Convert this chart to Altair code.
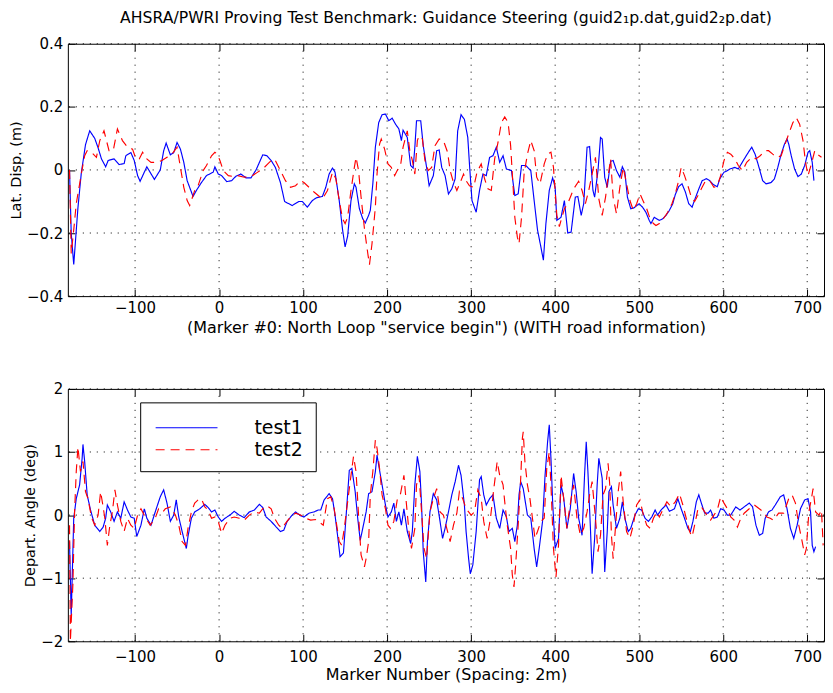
import altair as alt
import pandas as pd

# ---------------- data ----------------
series_names = ["test1", "test2"]
series_colors = ["#0000ff", "#ff0000"]
series_dashes = [[1, 0], [9, 6]]

x_ticks = [-100, 0, 100, 200, 300, 400, 500, 600, 700]
top_y_ticks = [-0.4, -0.2, 0, 0.2, 0.4]
bot_y_ticks = [-2, -1, 0, 1, 2]

# Top panel: lateral displacement (m)
top_t1_x = [-178, -176, -173, -168, -164, -159, -154, -148, -144, -140, -135, -132, -125, -119, -113, -111, -105, -101,
            -97, -94, -86, -77, -70, -66, -63, -58, -54, -50, -46, -42, -38, -31, -27, -21, -15, -7, -5, -1, 3, 9, 15,
            20, 26, 32, 38, 44, 52, 57, 62, 67, 73, 78, 87, 95, 99, 105, 111, 116, 123, 127, 131, 135, 138, 143, 147,
            150, 153, 157, 161, 163, 167, 171, 174, 178, 180, 183, 186, 190, 194, 198, 202, 206, 210, 214, 217, 219,
            224, 228, 231, 233, 235, 240, 243, 247, 250, 255, 259, 262, 265, 269, 273, 277, 281, 284, 288, 292, 296,
            298, 301, 306, 310, 314, 318, 322, 326, 330, 334, 338, 342, 348, 352, 356, 360, 365, 371, 375, 379, 383,
            386, 389, 393, 397, 400, 402, 407, 411, 415, 419, 424, 427, 431, 434, 438, 441, 445, 447, 451, 454, 456,
            459, 462, 466, 469, 473, 477, 480, 483, 486, 490, 494, 500, 504, 508, 512, 514, 518, 524, 528, 532, 536,
            540, 543, 547, 551, 555, 559, 563, 567, 571, 575, 580, 584, 588, 593, 596, 601, 604, 608, 614, 618, 624,
            630, 634, 638, 642, 647, 651, 657, 661, 665, 669, 673, 676, 678, 681, 685, 689, 693, 697, 701, 703, 706,
            708]
top_t1_y = [0.0, -0.2, -0.30, -0.12, -0.01, 0.08, 0.124, 0.10, 0.07, 0.035, 0.01, 0.03, 0.035, 0.017, 0.02, 0.045,
            0.055, 0.03, -0.018, -0.036, 0.01, -0.03, 0.0, 0.06, 0.085, 0.048, 0.055, 0.087, 0.066, 0.024, -0.034,
            -0.084, -0.065, -0.04, -0.018, -0.007, 0.01, -0.013, -0.018, -0.037, -0.034, -0.02, -0.013, -0.025, -0.025,
            0.0, 0.048, 0.045, 0.03, 0.008, -0.04, -0.10, -0.113, -0.1, -0.1, -0.118, -0.097, -0.088, -0.084, -0.055,
            -0.013, 0.006, -0.007, -0.097, -0.19, -0.244, -0.21, -0.097, -0.044, -0.055, -0.123, -0.155, -0.168,
            -0.144, -0.128, -0.044, 0.072, 0.15, 0.175, 0.177, 0.156, 0.164, 0.145, 0.13, 0.093, 0.126, 0.103, 0.014,
            0.006, 0.072, 0.156, 0.156, 0.077, 0.008, -0.05, -0.018, 0.061, 0.063, 0.008, -0.018, -0.076, -0.06,
            -0.028, 0.124, 0.175, 0.16, 0.103, 0.019, -0.097, -0.134, -0.065, -0.013, -0.018, 0.04, 0.045, 0.072,
            0.024, 0.045, 0.003, -0.002, -0.081, -0.076, 0.014, 0.014, -0.002, -0.097, -0.19, -0.244, -0.286, -0.17,
            -0.065, -0.025, -0.055, -0.16, -0.15, -0.097, -0.2, -0.197, -0.086, -0.084, -0.144, -0.107, 0.072, 0.074,
            -0.065, -0.086, -0.002, 0.103, 0.098, -0.023, -0.055, 0.027, 0.03, -0.002, -0.023, 0.01, -0.007, -0.086,
            -0.123, -0.12, -0.107, -0.118, -0.134, -0.16, -0.17, -0.15, -0.16, -0.155, -0.144, -0.128, -0.107, -0.078,
            -0.053, -0.044, -0.07, -0.107, -0.118, -0.088, -0.06, -0.034, -0.028, -0.034, -0.046, -0.053, -0.028,
            -0.007, -0.004, 0.003, 0.008, 0.003, 0.03, 0.056, 0.072, 0.05, 0.014, -0.034, -0.044, -0.04, -0.028,
            0.008, 0.05, 0.082, 0.098, 0.082, 0.045, 0.003, -0.021, -0.013, 0.014, 0.056, 0.061, 0.024, -0.034]

top_t2_x = [-178, -176, -173, -170, -167, -164, -160, -157, -152, -146, -142, -137, -131, -126, -121, -115, -109, -103,
            -99, -95, -91, -86, -81, -74, -68, -62, -56, -50, -46, -42, -38, -35, -29, -25, -19, -15, -9, -5, -2, 1, 5,
            11, 17, 22, 30, 38, 46, 52, 58, 64, 67, 73, 79, 85, 91, 97, 101, 107, 113, 118, 123, 129, 135, 139, 143,
            147, 150, 153, 157, 161, 163, 166, 169, 173, 177, 179, 182, 186, 188, 191, 193, 197, 201, 205, 209, 212,
            216, 219, 224, 227, 230, 233, 236, 238, 242, 245, 249, 253, 257, 262, 267, 272, 275, 279, 283, 287, 291,
            294, 298, 303, 307, 312, 316, 320, 324, 328, 332, 336, 340, 344, 347, 350, 352, 355, 357, 360, 363, 367,
            371, 375, 378, 382, 387, 391, 395, 398, 402, 405, 407, 411, 415, 419, 422, 428, 432, 436, 440, 444, 448,
            452, 456, 460, 464, 466, 469, 473, 477, 481, 485, 489, 493, 497, 501, 505, 509, 513, 517, 520, 524, 530,
            534, 539, 543, 547, 550, 554, 558, 562, 566, 570, 574, 579, 584, 589, 593, 597, 601, 605, 609, 614, 618,
            623, 628, 634, 639, 644, 650, 654, 659, 664, 669, 673, 678, 683, 687, 691, 695, 698, 701, 705, 709, 712,
            717]
top_t2_y = [0.0, -0.265, -0.19, -0.107, -0.06, -0.013, 0.045, 0.061, 0.056, 0.04, 0.093, 0.124, 0.061, 0.061, 0.13,
            0.093, 0.072, 0.066, 0.035, 0.035, 0.056, 0.035, 0.024, 0.024, 0.03, 0.04, 0.05, 0.072, 0.008, -0.055,
            -0.097, -0.113, -0.065, -0.05, -0.002, 0.014, 0.045, 0.056, 0.05, 0.03, -0.002, -0.018, -0.021, -0.018,
            -0.023, -0.021, -0.007, 0.003, 0.019, 0.035, 0.03, -0.002, -0.034, -0.055, -0.05, -0.034, -0.04, -0.055,
            -0.07, -0.081, -0.092, -0.065, -0.007, -0.028, -0.097, -0.155, -0.17, -0.15, -0.065, 0.008, 0.04, -0.002,
            -0.086, -0.186, -0.265, -0.30, -0.234, -0.118, -0.013, 0.082, 0.098, 0.066, 0.019, 0.008, -0.018, -0.002,
            0.014, 0.072, 0.124, 0.061, 0.03, -0.013, 0.093, 0.108, 0.098, 0.03, -0.002, 0.008, 0.077, 0.098, 0.093,
            0.056, -0.002, -0.04, -0.065, -0.04, -0.013, -0.034, -0.05, -0.055, -0.007, 0.019, -0.028, -0.06, -0.065,
            0.035, 0.087, 0.15, 0.168, 0.15, 0.077, -0.055, -0.15, -0.213, -0.234, -0.15, -0.013, 0.05, 0.093, 0.061,
            -0.023, -0.044, 0.019, 0.05, 0.056, 0.008, -0.144, -0.18, -0.16, -0.123, -0.107, -0.08, -0.06, -0.036,
            -0.065, -0.107, -0.065, -0.013, 0.04, -0.092, -0.144, -0.086, -0.002, 0.035, -0.086, -0.139, -0.055, 0.008,
            -0.044, -0.097, -0.128, -0.107, -0.076, -0.1, -0.123, -0.155, -0.17, -0.176, -0.17, -0.15, -0.134, -0.107,
            -0.076, -0.034, 0.008, -0.018, -0.05, -0.086, -0.1, -0.081, -0.06, -0.034, -0.034, -0.055, -0.05, -0.018,
            0.03, 0.056, 0.05, 0.035, 0.014, -0.002, 0.024, 0.04, 0.035, 0.045, 0.061, 0.061, 0.05, 0.04, 0.045, 0.077,
            0.114, 0.15, 0.166, 0.145, 0.093, 0.024, -0.018, 0.019, 0.061, 0.05, 0.04]

# Bottom panel: departure angle (deg)
bot_t1_x = [-178, -176, -173, -170, -166, -163, -162, -160, -157, -153, -148, -142, -138, -135, -133, -129, -125, -121,
            -117, -113, -109, -105, -101, -98, -93, -89, -86, -81, -76, -70, -66, -62, -58, -54, -51, -48, -44, -39,
            -37, -33, -29, -23, -17, -13, -9, -5, -1, 3, 7, 13, 18, 24, 30, 36, 42, 48, 52, 56, 62, 68, 73, 77, 81,
            87, 91, 97, 101, 107, 113, 118, 121, 125, 131, 135, 138, 141, 144, 148, 151, 155, 158, 162, 165, 168, 171,
            175, 178, 182, 186, 188, 190, 194, 198, 201, 205, 208, 211, 214, 217, 220, 224, 228, 230, 233, 236, 239,
            241, 243, 246, 248, 251, 255, 259, 263, 266, 269, 273, 277, 281, 285, 288, 292, 294, 297, 299, 302, 306,
            310, 312, 315, 318, 322, 326, 330, 334, 338, 342, 345, 349, 352, 355, 357, 359, 362, 367, 371, 375, 378,
            381, 385, 388, 391, 393, 395, 397, 400, 404, 407, 410, 414, 418, 422, 425, 428, 432, 435, 437, 439, 442,
            444, 447, 450, 452, 456, 459, 462, 464, 467, 469, 473, 477, 480, 483, 487, 490, 495, 499, 503, 507, 511,
            515, 519, 522, 526, 532, 536, 542, 546, 550, 554, 558, 561, 564, 568, 571, 574, 578, 582, 585, 589, 593,
            597, 601, 605, 609, 615, 620, 625, 631, 635, 639, 643, 647, 650, 654, 658, 662, 668, 672, 676, 680, 684,
            688, 692, 697, 701, 704, 706, 708, 710]
bot_t1_y = [-0.42, -1.59, -0.05, 0.26, 0.48, 0.9, 1.12, 0.85, 0.32, 0.08, -0.16, -0.26, -0.19, -0.05, 0.16, 0.05,
            -0.1, 0.05, -0.05, 0.21, 0.08, -0.03, -0.05, -0.34, -0.16, 0.1, -0.05, -0.16, 0.05, 0.29, 0.4, 0.19, -0.1,
            0.0, 0.24, -0.03, -0.26, -0.53, -0.34, -0.05, 0.05, 0.1, 0.17, 0.12, 0.05, 0.08, -0.03, -0.1, -0.05, 0.0,
            0.06, 0.0, -0.04, 0.05, 0.08, 0.17, 0.12, -0.03, -0.1, -0.19, -0.26, -0.24, -0.1, 0.0, 0.05, -0.01, -0.03,
            0.03, 0.05, 0.08, 0.08, 0.24, 0.34, 0.26, 0.0, -0.32, -0.66, -0.6, -0.05, 0.71, 0.74, 0.37, -0.05, -0.4,
            -0.21, 0.05, 0.34, 0.37, 0.69, 0.95, 0.79, 0.48, 0.16, -0.03, 0.05, 0.19, -0.1, 0.05, -0.16, 0.1, -0.26,
            -0.45, -0.26, 0.48, 0.93, 0.69, 0.16, -0.58, -1.06, -0.42, 0.05, 0.34, 0.24, -0.1, -0.37, -0.21, 0.05,
            0.32, 0.53, 0.79, 0.63, 0.16, -0.26, -0.69, -0.93, -0.79, -0.26, 0.56, 0.61, 0.32, 0.16, 0.26, 0.32, -0.05,
            -0.21, 0.08, -0.03, -0.26, -0.21, -0.42, -0.16, 0.32, 0.53, 0.42, 0.0, -0.05, -0.53, -0.82, -0.53, -0.1,
            0.63, 1.16, 1.43, 0.9, 0.21, -0.53, -0.37, 0.48, 0.29, -0.21, 0.1, 0.66, 0.37, -0.05, -0.32, 0.63, 1.16,
            0.69, -0.21, -0.93, -0.37, 0.48, 0.9, 0.58, -0.9, -0.26, 0.37, 0.45, 0.16, -0.21, -0.05, 0.21, -0.05,
            -0.26, -0.21, 0.0, 0.1, 0.08, -0.05, -0.1, -0.03, 0.08, 0.0, 0.08, 0.16, 0.06, 0.1, 0.26, 0.1, -0.05,
            -0.21, -0.26, -0.1, 0.21, 0.32, 0.19, 0.03, 0.03, 0.08, -0.05, -0.03, 0.1, 0.08, 0.0, 0.0, 0.13, 0.08,
            0.13, 0.19, 0.13, -0.16, -0.32, -0.29, -0.05, 0.05, 0.08, 0.16, 0.29, 0.32, 0.1, -0.21, -0.37, -0.16, 0.1,
            0.24, 0.26, 0.05, -0.48, -0.58, -0.5]

bot_t2_x = [-178, -177, -174, -172, -170, -168, -165, -162, -159, -156, -152, -148, -144, -141, -138, -136, -133, -130,
            -127, -124, -121, -117, -113, -109, -105, -101, -97, -93, -88, -82, -76, -72, -67, -64, -58, -52, -48, -44,
            -40, -37, -33, -29, -25, -21, -17, -13, -9, -5, -1, 3, 7, 13, 18, 24, 30, 36, 42, 48, 52, 57, 62, 66, 71,
            75, 79, 85, 91, 97, 103, 109, 115, 120, 124, 129, 133, 137, 140, 143, 146, 149, 153, 157, 160, 163, 166,
            169, 173, 175, 178, 180, 183, 186, 188, 191, 194, 198, 201, 204, 208, 212, 216, 220, 222, 226, 229, 233,
            235, 238, 241, 244, 247, 251, 255, 259, 263, 267, 271, 275, 279, 283, 286, 290, 294, 297, 300, 304, 308,
            312, 315, 319, 323, 327, 331, 334, 338, 340, 343, 347, 349, 351, 353, 356, 359, 361, 362, 364, 367, 370,
            373, 376, 379, 383, 387, 390, 393, 395, 398, 401, 404, 407, 411, 414, 416, 419, 422, 426, 430, 434, 438,
            441, 444, 448, 451, 454, 457, 460, 463, 465, 467, 469, 472, 475, 478, 481, 485, 489, 493, 497, 501, 505,
            509, 513, 517, 521, 524, 528, 533, 538, 543, 548, 552, 556, 560, 563, 566, 570, 574, 578, 582, 585, 589,
            593, 597, 601, 605, 609, 613, 617, 621, 625, 631, 637, 643, 648, 652, 656, 660, 666, 672, 678, 682, 686,
            690, 694, 697, 699, 702, 705, 707, 710, 714, 717, 719]
bot_t2_y = [-0.16, -2.0, -1.1, 0.05, 0.69, 1.08, 0.69, 0.85, 0.37, 0.26, -0.03, -0.16, 0.0, 0.37, 0.13, -0.05, -0.48,
            -0.16, 0.05, 0.4, 0.16, -0.1, -0.26, -0.05, -0.16, -0.21, 0.0, 0.1, -0.03, -0.16, -0.05, 0.1, 0.05, 0.1,
            0.13, 0.0, -0.16, -0.42, -0.48, -0.21, 0.05, 0.19, 0.24, 0.26, 0.13, 0.08, -0.05, -0.03, -0.1, -0.29,
            -0.16, -0.05, -0.03, -0.05, -0.08, 0.0, 0.05, 0.03, 0.1, 0.15, 0.1, -0.05, -0.16, -0.21, -0.13, -0.03,
            0.03, 0.0, -0.05, -0.08, -0.07, -0.12, -0.16, 0.26, 0.29, 0.1, -0.16, -0.42, -0.48, -0.21, 0.21, 0.63,
            0.93, 0.69, 0.0, -0.63, -0.82, -0.69, -0.42, 0.32, 0.69, 1.19, 1.06, 0.74, 0.32, 0.1, -0.16, -0.21, -0.1,
            0.24, 0.34, 0.63, 0.32, -0.26, -0.53, -0.21, 0.48, 0.63, 0.05, -0.53, -0.69, 0.05, 0.26, 0.42, 0.05, 0.0,
            -0.21, -0.42, -0.16, 0.03, 0.37, 0.26, 0.1, 0.05, 0.0, 0.05, 0.4, 0.26, -0.1, -0.37, -0.05, 0.42, 0.85,
            0.63, 0.48, 0.21, -0.16, -0.53, -0.95, -1.14, -0.79, -0.16, 0.58, 1.22, 1.32, 0.85, 0.48, 0.26, -0.05,
            -0.37, -0.26, -0.1, -0.05, 0.74, 1.0, 0.48, -0.53, -0.98, -0.48, 0.63, 0.16, -0.21, 0.0, 0.26, 0.48, -0.05,
            -0.32, -0.21, 0.05, 0.32, 0.53, -0.05, -0.58, -0.32, 0.32, 0.42, 0.82, 0.48, -0.32, -0.69, -0.16, 0.37,
            0.69, 0.21, -0.26, -0.37, -0.16, 0.16, 0.24, 0.0, -0.16, -0.21, -0.05, 0.05, -0.03, 0.08, 0.21, 0.13, 0.21,
            0.34, 0.16, -0.05, -0.26, -0.34, -0.16, 0.1, 0.13, 0.05, -0.03, -0.08, 0.0, 0.08, 0.29, 0.19, 0.1, -0.03,
            -0.08, -0.19, -0.05, 0.03, 0.1, 0.16, 0.1, 0.05, -0.03, -0.05, -0.08, 0.03, 0.03, 0.26, 0.32, 0.19, -0.16,
            -0.42, -0.63, -0.53, 0.05, 0.26, 0.42, 0.05, 0.0, 0.08, -0.48]

title_text = "AHSRA/PWRI Proving Test Benchmark: Guidance Steering (guid2\u2081p.dat,guid2\u2082p.dat)"
top_x_title = '(Marker #0: North Loop "service begin") (WITH road information)'
bot_x_title = "Marker Number (Spacing: 2m)"
top_y_title = "Lat. Disp. (m)"
bot_y_title = "Depart. Angle (deg)"

# ---------------- chart ----------------
FONT = "DejaVu Sans"
W, H = 758, 253
X_DOMAIN = [-180, 720]
GRID_DASH = [1, 6]


def series_df(x1, y1, x2, y2):
    a = pd.DataFrame({"x": x1, "y": y1, "series": series_names[0]})
    b = pd.DataFrame({"x": x2, "y": y2, "series": series_names[1]})
    return pd.concat([a, b], ignore_index=True)


color_enc = alt.Color("series:N", scale=alt.Scale(domain=series_names, range=series_colors), legend=None)
dash_enc = alt.StrokeDash("series:N", scale=alt.Scale(domain=series_names, range=series_dashes), legend=None)

AX = dict(labelFont=FONT, labelFontSize=15, labelColor="black", titleFont=FONT,
          titleFontWeight="normal", titleColor="black", tickColor="black", tickWidth=1)


def panel(df, ydom, yticks, ytitle, xtitle, ylabel_expr=None, legend=False, xlabel_pad=5, xtitle_pad=5):
    xs = alt.Scale(domain=X_DOMAIN, nice=False, zero=False)
    ys = alt.Scale(domain=ydom, nice=False, zero=False)

    yaxis_kw = dict(values=yticks, orient="left", title=ytitle, grid=False, domain=False,
                    tickSize=7, offset=-7, labelPadding=5, titlePadding=3, titleFontSize=14.5, **AX)
    if ylabel_expr:
        yaxis_kw["labelExpr"] = ylabel_expr

    vgrid = alt.Chart(pd.DataFrame({"v": x_ticks})).mark_rule(
        color="black", strokeWidth=1, strokeDash=GRID_DASH).encode(
        x=alt.X("v:Q", scale=xs, axis=alt.Axis(values=x_ticks, orient="top", labels=False, title=None,
                                                 grid=False, domain=False, tickSize=7, offset=-7,
                                                 tickColor="black")))
    hgrid = alt.Chart(pd.DataFrame({"v": yticks})).mark_rule(
        color="black", strokeWidth=1, strokeDash=GRID_DASH).encode(
        y=alt.Y("v:Q", scale=ys, axis=alt.Axis(values=yticks, orient="right", labels=False, title=None,
                                                 grid=False, domain=False, tickSize=7, offset=-7,
                                                 tickColor="black")))
    lines = alt.Chart(df).mark_line(strokeWidth=1.15, clip=True).encode(
        x=alt.X("x:Q", scale=xs, axis=alt.Axis(values=x_ticks, orient="bottom", title=xtitle, grid=False,
                                                 domain=False, tickSize=7, offset=-7, labelPadding=xlabel_pad,
                                                 titlePadding=xtitle_pad, titleFontSize=16, **AX)),
        y=alt.Y("y:Q", scale=ys, axis=alt.Axis(**yaxis_kw)),
        color=color_enc,
        strokeDash=dash_enc,
        order="x:Q",
    )
    layers = [vgrid, hgrid, lines]
    if legend:
        leg = pd.DataFrame({"series": series_names})
        box = alt.Chart(pd.DataFrame({"k": [0]})).mark_rect(fill="white", stroke="black", strokeWidth=1).encode(
            x=alt.value(73), x2=alt.value(249), y=alt.value(14), y2=alt.value(83))
        layers.append(box)
        for i, ypos in enumerate([39, 61]):
            one = alt.Chart(leg).transform_filter(alt.datum.series == series_names[i])
            layers.append(one.mark_rule(strokeWidth=1.1).encode(
                x=alt.value(88), x2=alt.value(150), y=alt.value(ypos), color=color_enc, strokeDash=dash_enc))
            layers.append(one.mark_text(align="left", baseline="middle", font=FONT, fontSize=19, color="black").encode(
                x=alt.value(187), y=alt.value(ypos), text="series:N"))
    return alt.layer(*layers).resolve_axis(x="independent", y="independent").properties(width=W, height=H)


top = panel(series_df(top_t1_x, top_t1_y, top_t2_x, top_t2_y), [-0.4, 0.4], top_y_ticks, top_y_title,
            top_x_title, ylabel_expr="datum.value == 0 ? '0' : format(datum.value, '.1f')",
            xlabel_pad=4, xtitle_pad=4).properties(
    title=alt.TitleParams(title_text, font=FONT, fontSize=15.7, fontWeight="normal", anchor="middle",
                          color="black", offset=10))
bottom = panel(series_df(bot_t1_x, bot_t1_y, bot_t2_x, bot_t2_y), [-2, 2], bot_y_ticks, bot_y_title,
               bot_x_title, legend=True, xlabel_pad=8, xtitle_pad=2)

chart = alt.vconcat(top, bottom, spacing=45).properties(
    padding={"left": 0, "top": 0, "right": 0, "bottom": 0},
    background="white",
).configure_view(stroke="black", strokeWidth=1)

chart.save("out.html", embed_options={"renderer": "svg", "actions": False})
